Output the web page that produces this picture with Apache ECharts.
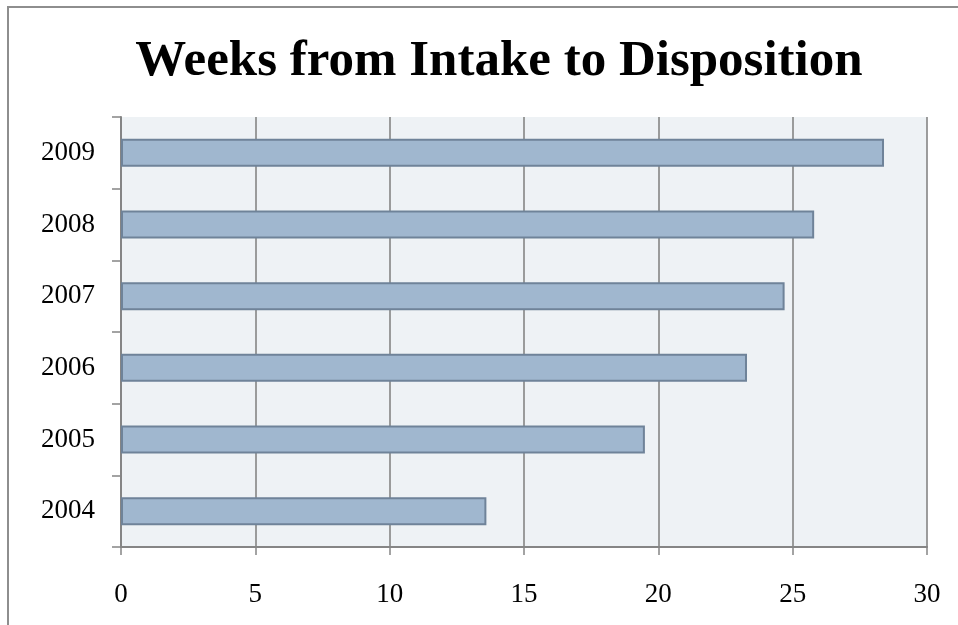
<!DOCTYPE html>
<html>
<head>
<meta charset="utf-8">
<script src="https://cdn.jsdelivr.net/npm/echarts@6/dist/echarts.min.js"></script>
<style>
  html, body { margin: 0; padding: 0; background: #fff; }
  #frame {
    position: absolute; left: 7px; top: 6px; width: 1000px; height: 700px;
    border-left: 2px solid #8e8e8e; border-top: 2px solid #8e8e8e;
  }
  #chart { position: absolute; left: 0; top: 0; width: 958px; height: 625px; }
</style>
</head>
<body>
<div id="frame"></div>
<div id="chart"></div>
<script>
// 年份（自下而上）
const years = ['2004', '2005', '2006', '2007', '2008', '2009'];
// 从受理到结案的周数
const weeks = [13.6, 19.5, 23.3, 24.7, 25.8, 28.4];
// 横轴刻度
const xTicks = [0, 5, 10, 15, 20, 25, 30];

const serif = '"Liberation Serif", "DejaVu Serif", serif';
const gray = '#858585';

const myChart = echarts.init(document.getElementById('chart'));

const option = {
  backgroundColor: 'transparent',
  animation: false,
  title: {
    text: 'Weeks from Intake to Disposition',
    left: 494,
    top: 31,
    textAlign: 'center',
    textStyle: { fontFamily: serif, fontWeight: 'bold', fontSize: 51, color: '#000' }
  },
  grid: {
    left: 121, right: 31, top: 117, bottom: 78,
    show: true, backgroundColor: '#eef2f5', borderWidth: 0
  },
  xAxis: {
    type: 'value',
    min: xTicks[0],
    max: xTicks[xTicks.length - 1],
    interval: 5,
    axisLine: { show: true, lineStyle: { color: gray, width: 2 } },
    axisTick: { show: true, length: 8, lineStyle: { color: gray, width: 1.5 } },
    axisLabel: { color: '#000', fontFamily: serif, fontSize: 27, margin: 34 },
    splitLine: { show: true, lineStyle: { color: gray, width: 1.6 } }
  },
  yAxis: {
    type: 'category',
    data: years,
    axisLine: { show: true, lineStyle: { color: gray, width: 2 } },
    axisTick: { show: true, length: 9, lineStyle: { color: gray, width: 1.5 } },
    axisLabel: { color: '#000', fontFamily: serif, fontSize: 27, margin: 26 },
    splitLine: { show: false }
  },
  series: [{
    type: 'bar',
    data: weeks,
    barWidth: 28,
    itemStyle: { color: '#a0b7cf', borderColor: '#6f8399', borderWidth: 2 }
  }]
};

myChart.setOption(option);
</script>
</body>
</html>
